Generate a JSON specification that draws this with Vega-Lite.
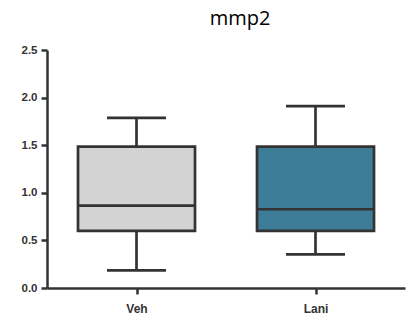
{
  "$schema": "https://vega.github.io/schema/vega-lite/v6.json",
  "width": 358,
  "height": 238,
  "autosize": "none",
  "padding": {"left": 47, "top": 50, "right": 1, "bottom": 42},
  "background": "white",
  "title": {"text": "mmp2", "fontSize": 20, "font": "Open Sans", "fontWeight": "normal", "color": "#000000", "offset": 15, "dx": 14},
  "data": {"values": [
    {"group": "Veh", "min": 0.186, "q1": 0.6, "median": 0.865, "q3": 1.484, "max": 1.786},
    {"group": "Lani", "min": 0.354, "q1": 0.6, "median": 0.827, "q3": 1.484, "max": 1.91}
  ]},
  "encoding": {
    "x": {"field": "group", "type": "nominal", "sort": ["Veh", "Lani"],
      "scale": {"type": "point", "padding": 0.5},
      "axis": {"title": null, "labelAngle": 0, "labelFont": "Liberation Sans", "labelFontWeight": "bold", "labelFontSize": 12, "labelColor": "#333333", "labelPadding": 9, "domainColor": "#333333", "domainWidth": 2.5, "tickColor": "#333333", "tickWidth": 2.5, "tickSize": 6, "grid": false}}
  },
  "layer": [
    {"mark": {"type": "rule", "color": "#333333", "strokeWidth": 2.7},
     "encoding": {"y": {"field": "min", "type": "quantitative", "scale": {"domain": [0, 2.5], "nice": false},
        "axis": {"title": null, "values": [0, 0.5, 1, 1.5, 2, 2.5], "format": ".1f", "labelFont": "Liberation Sans", "labelFontWeight": "bold", "labelFontSize": 11.5, "labelColor": "#333333", "labelPadding": 4, "domainColor": "#333333", "domainWidth": 2.5, "tickColor": "#333333", "tickWidth": 2.5, "tickSize": 6, "grid": false}},
      "y2": {"field": "q1"}}},
    {"mark": {"type": "rule", "color": "#333333", "strokeWidth": 2.7},
     "encoding": {"y": {"field": "q3", "type": "quantitative"}, "y2": {"field": "max"}}},
    {"mark": {"type": "tick", "color": "#333333", "thickness": 2.7, "size": 59, "opacity": 1},
     "encoding": {"y": {"field": "min", "type": "quantitative"}}},
    {"mark": {"type": "tick", "color": "#333333", "thickness": 2.7, "size": 59, "opacity": 1},
     "encoding": {"y": {"field": "max", "type": "quantitative"}}},
    {"mark": {"type": "bar", "size": 117, "stroke": "#333333", "strokeWidth": 2.7, "opacity": 1},
     "encoding": {"y": {"field": "q1", "type": "quantitative"}, "y2": {"field": "q3"},
       "color": {"field": "group", "type": "nominal", "scale": {"domain": ["Veh", "Lani"], "range": ["#d3d3d3", "#3e7d98"]}, "legend": null}}},
    {"mark": {"type": "tick", "color": "#333333", "thickness": 2.7, "size": 115, "opacity": 1},
     "encoding": {"y": {"field": "median", "type": "quantitative"}}}
  ],
  "config": {"view": {"stroke": null}}
}
